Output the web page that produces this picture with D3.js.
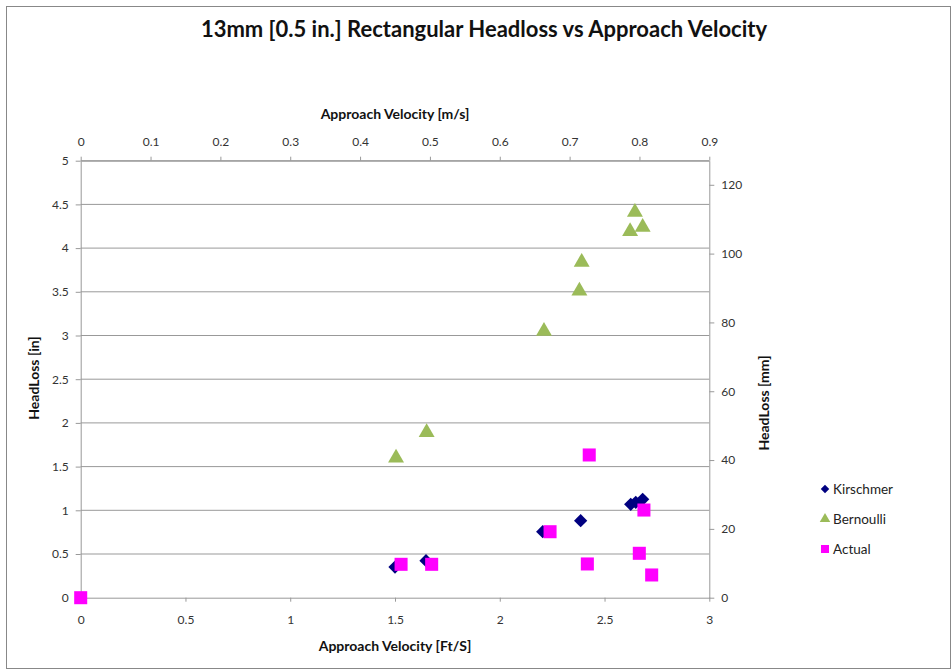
<!DOCTYPE html>
<html><head><meta charset="utf-8">
<script src="https://cdn.jsdelivr.net/npm/d3@7"></script>
<style>body{margin:0;background:#fff}svg{display:block}text{font-family:Lato,"Open Sans",sans-serif}</style>
</head><body><svg id="c" width="952" height="671"></svg>
<script>
const kirschmerV = [1.50, 1.648, 2.205, 2.386, 2.625, 2.649, 2.682];
const kirschmerH = [0.351, 0.423, 0.755, 0.881, 1.069, 1.091, 1.126];
const bernoulliV = [1.505, 1.651, 2.211, 2.380, 2.391, 2.622, 2.645, 2.682];
const bernoulliH = [1.60, 1.89, 3.05, 3.51, 3.84, 4.19, 4.41, 4.24];
const actualV = [0, 1.529, 1.675, 2.240, 2.427, 2.418, 2.688, 2.666, 2.725];
const actualH = [0, 0.382, 0.382, 0.755, 1.633, 0.386, 1.003, 0.508, 0.26];
const xTicksFt = [0, 0.5, 1, 1.5, 2, 2.5, 3];
const xTicksMs = [0, 0.1, 0.2, 0.3, 0.4, 0.5, 0.6, 0.7, 0.8, 0.9];
const yTicksIn = [0, 0.5, 1, 1.5, 2, 2.5, 3, 3.5, 4, 4.5, 5];
const yTicksMm = [0, 20, 40, 60, 80, 100, 120];
const seriesNames = ["Kirschmer", "Bernoulli", "Actual"];
const seriesColors = ["#000080", "#9BBB59", "#FF00FF"];

const svg = d3.select("#c");
const L = 80.7, R = 709.3, T = 160.7, B = 597.7;
const x = d3.scaleLinear().domain([0, 3]).range([L, R]);
const xTop = d3.scaleLinear().domain([0, 0.9]).range([L, R]);
const y = d3.scaleLinear().domain([0, 5]).range([B, T]);
const yR = d3.scaleLinear().domain([0, 127]).range([B, T]);

// outer border
svg.append("rect").attr("x", 6.5).attr("y", 6.5).attr("width", 944).attr("height", 662)
  .attr("fill", "#fff").attr("stroke", "#888").attr("stroke-width", 1);

// gridlines
svg.append("g").selectAll("line").data(yTicksIn.slice(1)).join("line")
  .attr("x1", L).attr("x2", R).attr("y1", d => y(d)).attr("y2", d => y(d))
  .attr("stroke", "#999").attr("stroke-width", 1);

const axisStyle = g => {
  g.select(".domain").attr("stroke", "#999");
  g.selectAll(".tick line").attr("stroke", "#999");
  g.selectAll(".tick text").attr("fill", "#333").style("font-size", "12px").style("font-family", "Lato, sans-serif");
};

svg.append("g").attr("transform", `translate(0,${B})`)
  .call(d3.axisBottom(x).tickValues(xTicksFt).tickFormat(d3.format("")).tickSize(4).tickPadding(14).tickSizeOuter(0))
  .call(axisStyle);
svg.append("g").attr("transform", `translate(0,${T})`)
  .call(d3.axisTop(xTop).tickValues(xTicksMs).tickFormat(d3.format("")).tickSize(4).tickPadding(11).tickSizeOuter(0))
  .call(axisStyle);
svg.append("g").attr("transform", `translate(${L},0)`)
  .call(d3.axisLeft(y).tickValues(yTicksIn).tickFormat(d3.format("")).tickSize(5).tickPadding(7).tickSizeOuter(0))
  .call(axisStyle);
svg.append("g").attr("transform", `translate(${R},0)`)
  .call(d3.axisRight(yR).tickValues(yTicksMm).tickFormat(d3.format("")).tickSize(5).tickPadding(7).tickSizeOuter(0))
  .call(axisStyle);

// titles
svg.append("text").attr("x", 484).attr("y", 37).attr("text-anchor", "middle")
  .style("font-size", "22px").style("font-weight", "bold").attr("fill", "#111")
  .text("13mm [0.5 in.] Rectangular Headloss vs Approach Velocity");
svg.append("text").attr("x", 395).attr("y", 119).attr("text-anchor", "middle")
  .style("font-size", "14px").style("font-weight", "bold").attr("fill", "#111")
  .text("Approach Velocity [m/s]");
svg.append("text").attr("x", 395).attr("y", 651).attr("text-anchor", "middle")
  .style("font-size", "14px").style("font-weight", "bold").attr("fill", "#111")
  .text("Approach Velocity [Ft/S]");
svg.append("text").attr("transform", "translate(39,378) rotate(-90)").attr("text-anchor", "middle")
  .style("font-size", "14px").style("font-weight", "bold").attr("fill", "#111")
  .text("HeadLoss [in]");
svg.append("text").attr("transform", "translate(769,403) rotate(-90)").attr("text-anchor", "middle")
  .style("font-size", "14px").style("font-weight", "bold").attr("fill", "#111")
  .text("HeadLoss [mm]");

// markers
const shapes = [d3.symbolSquare, d3.symbolTriangle, d3.symbolSquare];
const rot = [45, 0, 0];
const sizes = [88, 110, 170];
const data = [
  kirschmerV.map((v, i) => [v, kirschmerH[i]]),
  bernoulliV.map((v, i) => [v, bernoulliH[i]]),
  actualV.map((v, i) => [v, actualH[i]])
];
data.forEach((pts, s) => {
  svg.append("g").selectAll("path").data(pts).join("path")
    .attr("d", d3.symbol().type(shapes[s]).size(sizes[s]))
    .attr("transform", d => `translate(${x(d[0])},${y(d[1])}) rotate(${rot[s]})`)
    .attr("fill", seriesColors[s]);
});

// legend
const lg = svg.append("g");
seriesNames.forEach((n, i) => {
  const yy = 489 + i * 30;
  lg.append("path").attr("d", d3.symbol().type(shapes[i]).size([36, 48, 64][i]))
    .attr("transform", `translate(825,${yy}) rotate(${rot[i]})`).attr("fill", seriesColors[i]);
  lg.append("text").attr("x", 833).attr("y", yy + 5).style("font-size", "13.5px").attr("fill", "#222").text(n);
});
</script></body></html>
